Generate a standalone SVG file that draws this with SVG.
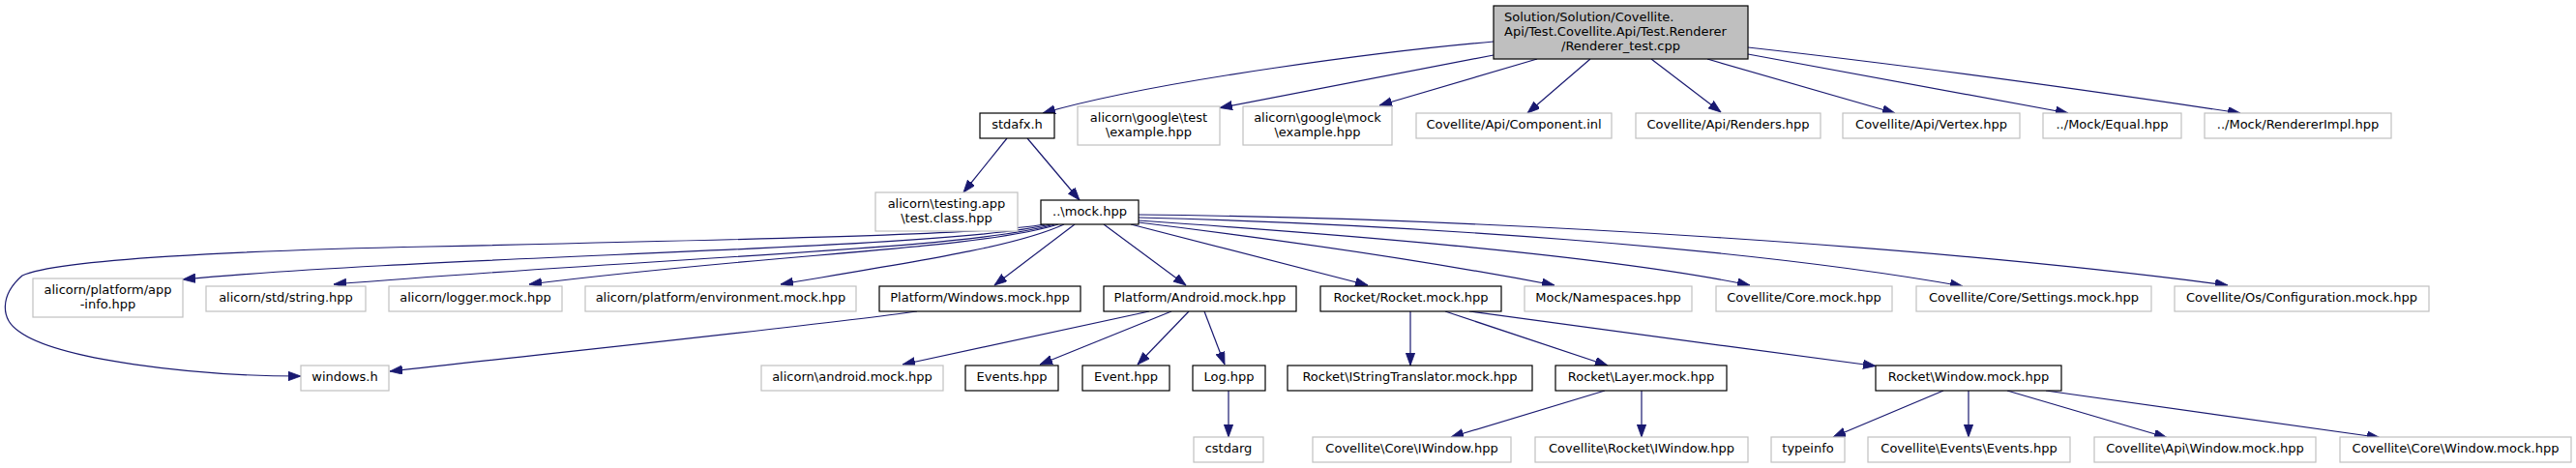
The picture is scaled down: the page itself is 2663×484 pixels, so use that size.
<svg xmlns="http://www.w3.org/2000/svg" width="2663" height="484" viewBox="0 0 2663 484">
<style>
.nb rect{fill:#fff;stroke:#000;stroke-width:1.2}
.ng rect{fill:#fff;stroke:#c0c0c0;stroke-width:1.2}
.nm rect{fill:#bfbfbf;stroke:#000;stroke-width:1.2}
text{font-family:"DejaVu Sans","Liberation Sans",sans-serif;font-size:13px;fill:#000;text-anchor:middle}
.edges path{fill:none;stroke:#191970;stroke-width:1.2;marker-end:url(#arr)}
</style>
<defs>
<marker id="arr" markerUnits="userSpaceOnUse" markerWidth="14" markerHeight="10" refX="13" refY="4.7" orient="auto">
<path d="M0,0 L13,4.7 L0,9.4 Z" fill="#191970" stroke="#191970" stroke-width="0.8"/>
</marker>
</defs>
<rect width="2663" height="484" fill="#fff"/>
<g class="edges" id="connectors">
<path d="M1544,43 C1440,52 1200,82 1078,117"/>
<path d="M1544,57 L1261,111.5"/>
<path d="M1589,61 L1426,109"/>
<path d="M1644,61 L1579,117"/>
<path d="M1707,61 L1779,116"/>
<path d="M1765,61 L1959,117"/>
<path d="M1807,56 L2138,117"/>
<path d="M1807,49 C1950,65 2150,92 2316,117"/>
<path d="M1041,143 L996,199"/>
<path d="M1062,143 L1116,207"/>
<path d="M1080,232 C1030,241 900,245 444,255 C250,259 60,268 23,285 C0,305 0,330 20,343 C60,372 200,389 311,389"/>
<path d="M1086,232 C980,258 450,264 189,289"/>
<path d="M1090,232 C1000,258 700,265 345,294"/>
<path d="M1094,232 C1010,258 800,262 547,294"/>
<path d="M1100,232 C1050,255 950,270 807,294"/>
<path d="M1111,232 L1028,295"/>
<path d="M1141,232 L1226,295"/>
<path d="M1169,232 L1414,295"/>
<path d="M1177,230 C1300,245 1450,265 1607,295"/>
<path d="M1177,228 C1350,240 1650,262 1809,295"/>
<path d="M1177,225 C1450,232 1800,255 2029,296"/>
<path d="M1177,222 C1550,226 2000,255 2303,295"/>
<path d="M948,322 C850,336 600,362 403,384"/>
<path d="M1188,322 L933,377"/>
<path d="M1211,322 L1075,377"/>
<path d="M1229,322 L1176,377"/>
<path d="M1245,322 L1266,377"/>
<path d="M1270,404 L1270,452"/>
<path d="M1458,322 L1458,378"/>
<path d="M1494,322 L1662,378"/>
<path d="M1519,322 C1650,340 1800,360 1939,378.5"/>
<path d="M1659,404 L1500,452"/>
<path d="M1697,404 L1697,452"/>
<path d="M2009,404 L1895,452"/>
<path d="M2035,404 L2035,452"/>
<path d="M2075,404 L2240,452.5"/>
<path d="M2115,404 L2460,452.5"/>
</g>
<g id="n_main" class="nm"><rect x="1544" y="6" width="263" height="55"/><text x="1555" y="21.5" style="text-anchor:start">Solution/Solution/Covellite.</text><text x="1555" y="36.5" style="text-anchor:start">Api/Test.Covellite.Api/Test.Renderer</text><text x="1675.5" y="51.5">/Renderer_test.cpp</text></g>
<g id="n_stdafx" class="nb"><rect x="1013" y="117" width="77" height="26"/><text x="1051.5" y="133">stdafx.h</text></g>
<g id="n_gtest" class="ng"><rect x="1114" y="110" width="147" height="40"/><text x="1187.5" y="126">alicorn\google\test</text><text x="1187.5" y="141">\example.hpp</text></g>
<g id="n_gmock" class="ng"><rect x="1285" y="110" width="154" height="40"/><text x="1362" y="126">alicorn\google\mock</text><text x="1362" y="141">\example.hpp</text></g>
<g id="n_component" class="ng"><rect x="1464" y="117" width="202" height="26"/><text x="1565" y="133">Covellite/Api/Component.inl</text></g>
<g id="n_renders" class="ng"><rect x="1691" y="117" width="191" height="26"/><text x="1786.5" y="133">Covellite/Api/Renders.hpp</text></g>
<g id="n_vertex" class="ng"><rect x="1905" y="117" width="183" height="26"/><text x="1996.5" y="133">Covellite/Api/Vertex.hpp</text></g>
<g id="n_equal" class="ng"><rect x="2112" y="117" width="143" height="26"/><text x="2183.5" y="133">../Mock/Equal.hpp</text></g>
<g id="n_rimpl" class="ng"><rect x="2279" y="117" width="193" height="26"/><text x="2375.5" y="133">../Mock/RendererImpl.hpp</text></g>
<g id="n_testclass" class="ng"><rect x="905" y="199" width="147" height="40"/><text x="978.5" y="215">alicorn\testing.app</text><text x="978.5" y="230">\test.class.hpp</text></g>
<g id="n_mock" class="nb"><rect x="1076" y="207" width="101" height="25"/><text x="1126.5" y="223">..\mock.hpp</text></g>
<g id="n_appinfo" class="ng"><rect x="34" y="288" width="155" height="40"/><text x="111.5" y="304">alicorn/platform/app</text><text x="111.5" y="319">-info.hpp</text></g>
<g id="n_string" class="ng"><rect x="213" y="296" width="165" height="26"/><text x="295.5" y="312">alicorn/std/string.hpp</text></g>
<g id="n_logger" class="ng"><rect x="402" y="296" width="179" height="26"/><text x="491.5" y="312">alicorn/logger.mock.hpp</text></g>
<g id="n_env" class="ng"><rect x="605" y="296" width="280" height="26"/><text x="745" y="312">alicorn/platform/environment.mock.hpp</text></g>
<g id="n_winmock" class="nb"><rect x="909" y="296" width="208" height="26"/><text x="1013" y="312">Platform/Windows.mock.hpp</text></g>
<g id="n_andmock" class="nb"><rect x="1141" y="296" width="199" height="26"/><text x="1240.5" y="312">Platform/Android.mock.hpp</text></g>
<g id="n_rocket" class="nb"><rect x="1365" y="296" width="187" height="26"/><text x="1458.5" y="312">Rocket/Rocket.mock.hpp</text></g>
<g id="n_ns" class="ng"><rect x="1576" y="296" width="173" height="26"/><text x="1662.5" y="312">Mock/Namespaces.hpp</text></g>
<g id="n_coremock" class="ng"><rect x="1774" y="296" width="182" height="26"/><text x="1865" y="312">Covellite/Core.mock.hpp</text></g>
<g id="n_settings" class="ng"><rect x="1981" y="296" width="243" height="26"/><text x="2102.5" y="312">Covellite/Core/Settings.mock.hpp</text></g>
<g id="n_config" class="ng"><rect x="2248" y="296" width="263" height="26"/><text x="2379.5" y="312">Covellite/Os/Configuration.mock.hpp</text></g>
<g id="n_windowsh" class="ng"><rect x="311" y="378" width="91" height="26"/><text x="356.5" y="394">windows.h</text></g>
<g id="n_android" class="ng"><rect x="787" y="378" width="188" height="26"/><text x="881" y="394">alicorn\android.mock.hpp</text></g>
<g id="n_events" class="nb"><rect x="998" y="378" width="96" height="26"/><text x="1046" y="394">Events.hpp</text></g>
<g id="n_event" class="nb"><rect x="1119" y="378" width="90" height="26"/><text x="1164" y="394">Event.hpp</text></g>
<g id="n_log" class="nb"><rect x="1233" y="378" width="75" height="26"/><text x="1270.5" y="394">Log.hpp</text></g>
<g id="n_istr" class="nb"><rect x="1331" y="378" width="253" height="26"/><text x="1457.5" y="394">Rocket\IStringTranslator.mock.hpp</text></g>
<g id="n_layer" class="nb"><rect x="1608" y="378" width="177" height="26"/><text x="1696.5" y="394">Rocket\Layer.mock.hpp</text></g>
<g id="n_rwin" class="nb"><rect x="1939" y="378" width="192" height="26"/><text x="2035" y="394">Rocket\Window.mock.hpp</text></g>
<g id="n_cstdarg" class="ng"><rect x="1234" y="452" width="72" height="26"/><text x="1270" y="468">cstdarg</text></g>
<g id="n_coreiw" class="ng"><rect x="1357" y="452" width="205" height="26"/><text x="1459.5" y="468">Covellite\Core\IWindow.hpp</text></g>
<g id="n_rocketiw" class="ng"><rect x="1587" y="452" width="220" height="26"/><text x="1697" y="468">Covellite\Rocket\IWindow.hpp</text></g>
<g id="n_typeinfo" class="ng"><rect x="1831" y="452" width="76" height="26"/><text x="1869" y="468">typeinfo</text></g>
<g id="n_evevents" class="ng"><rect x="1931" y="452" width="209" height="26"/><text x="2035.5" y="468">Covellite\Events\Events.hpp</text></g>
<g id="n_apiwin" class="ng"><rect x="2165" y="452" width="229" height="26"/><text x="2279.5" y="468">Covellite\Api\Window.mock.hpp</text></g>
<g id="n_corewin" class="ng"><rect x="2419" y="452" width="239" height="26"/><text x="2538.5" y="468">Covellite\Core\Window.mock.hpp</text></g>
</svg>
